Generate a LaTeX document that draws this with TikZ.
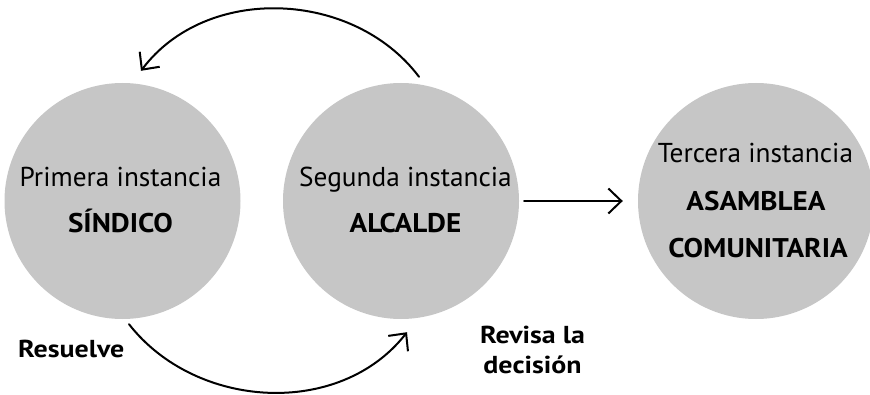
\documentclass[tikz,border=0pt]{standalone}
\usepackage{fontspec}
\setmainfont{PT Sans}
\newfontfamily\wideb{PT Sans}[FakeStretch=1.14]
\newfontfamily\midb{PT Sans}[FakeStretch=1.08]
\usetikzlibrary{arrows.meta,calc}
\definecolor{circgray}{RGB}{198,198,198}
\begin{document}
\begin{tikzpicture}[x=1pt,y=1pt,
  inst/.style={circle,fill=circgray,minimum size=236pt,inner sep=0pt},
  lbl/.style={anchor=base,inner sep=0pt,font=\fontsize{27.3}{30}\selectfont},
  lblb/.style={anchor=base,inner sep=0pt,font=\fontsize{27}{30}\selectfont\midb\bfseries},
  side/.style={anchor=base,inner sep=0pt,font=\fontsize{24.5}{30}\selectfont\wideb\bfseries},
  conn/.style={line width=2pt,line cap=round,line join=round,
    -{Straight Barb[length=13pt,width=25pt,line width=2pt]}}]
\useasboundingbox (0,0) rectangle (870,394);
\node[inst] (c1) at (122.5,193) {};
\node[inst] (c2) at (401,193) {};
\node[inst] (c3) at (756,193) {};
\node[lbl]  (t1a) at (120.5,207) {Primera instancia};
\node[lblb] (t1b) at (120.5,161) {SÍNDICO};
\node[lbl]  (t2a) at (405.5,207) {Segunda instancia};
\node[lblb] (t2b) at (405.5,161) {ALCALDE};
\node[lbl]  (t3a) at (755.5,231) {Tercera instancia};
\node[lblb] (t3b) at (756,183) {ASAMBLEA};
\node[lblb] (t3c) at (758,137) {COMUNITARIA};
\node[side,anchor=base west] (res) at (18,37) {Resuelve};
\node[side] (rev1) at (532.5,51) {Revisa la};
\node[side] (rev2) at (532.5,21) {decisión};
\coordinate (ta) at ($(c2.north)+(18,6)$);
\coordinate (tb) at ($(c1.north)+(18.5,12)$);
\coordinate (ba) at ($(c1.south)+(6.5,-5)$);
\coordinate (bb) at ($(c2.south)+(6,-13)$);
\draw[conn] (ta) to[out=127,in=53] (tb);
\draw[conn] (ba) to[out=-52,in=-128] (bb);
\draw[conn,shorten <=5pt,shorten >=15pt] (c2) -- (c3);
\end{tikzpicture}
\end{document}
